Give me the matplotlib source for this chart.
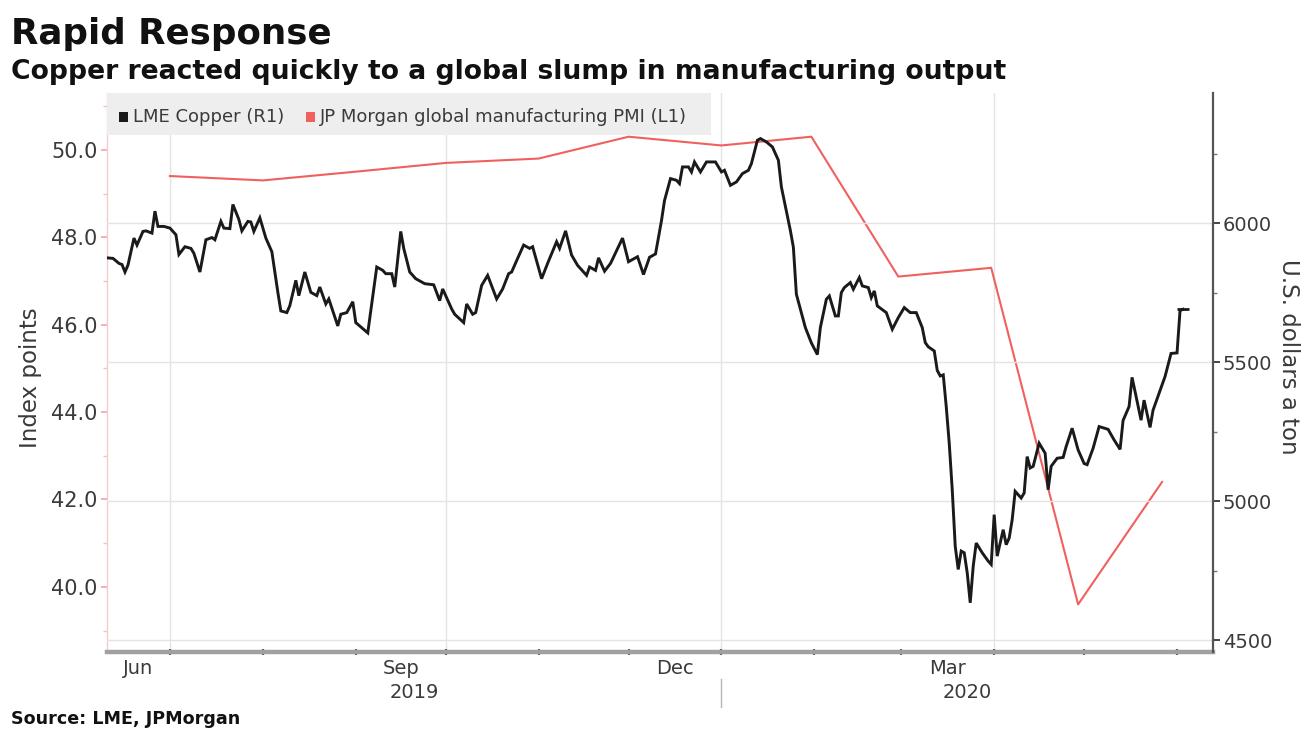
import matplotlib
matplotlib.use("Agg")
import matplotlib.pyplot as plt
import matplotlib.dates as mdates
import matplotlib.transforms as mtransforms
from matplotlib.patches import Rectangle
import pandas as pd

# ---------------- data ----------------
copper_dates = (
    ["2019-06-10", "2019-06-12", "2019-06-14", "2019-06-15", "2019-06-16", "2019-06-17", "2019-06-19",
     "2019-06-20", "2019-06-22", "2019-06-23", "2019-06-25", "2019-06-26", "2019-06-27", "2019-06-29"]
    + ["2019-07-01", "2019-07-03", "2019-07-04", "2019-07-06", "2019-07-08", "2019-07-09", "2019-07-11",
       "2019-07-13", "2019-07-15", "2019-07-16", "2019-07-18", "2019-07-19", "2019-07-21", "2019-07-22",
       "2019-07-24", "2019-07-25", "2019-07-27", "2019-07-28", "2019-07-29", "2019-07-31"]
    + ["2019-08-02", "2019-08-04", "2019-08-06", "2019-08-07", "2019-08-09", "2019-08-10", "2019-08-12",
       "2019-08-13", "2019-08-15", "2019-08-17", "2019-08-19", "2019-08-20", "2019-08-22", "2019-08-23",
       "2019-08-26", "2019-08-27", "2019-08-29", "2019-08-31"]
    + ["2019-09-01", "2019-09-05", "2019-09-08", "2019-09-10", "2019-09-11", "2019-09-13", "2019-09-14",
       "2019-09-16", "2019-09-17", "2019-09-19", "2019-09-21", "2019-09-23", "2019-09-24", "2019-09-27",
       "2019-09-29", "2019-09-30"]
    + ["2019-10-03", "2019-10-04", "2019-10-07", "2019-10-08", "2019-10-10", "2019-10-11", "2019-10-13",
       "2019-10-15", "2019-10-18", "2019-10-20", "2019-10-22", "2019-10-23", "2019-10-25", "2019-10-27",
       "2019-10-29", "2019-10-30"]
    + ["2019-11-02", "2019-11-04", "2019-11-07", "2019-11-08", "2019-11-10", "2019-11-12", "2019-11-14",
       "2019-11-17", "2019-11-18", "2019-11-20", "2019-11-21", "2019-11-23", "2019-11-25", "2019-11-29"]
    + ["2019-12-01", "2019-12-04", "2019-12-06", "2019-12-08", "2019-12-10", "2019-12-12", "2019-12-13",
       "2019-12-15", "2019-12-17", "2019-12-18", "2019-12-19", "2019-12-21", "2019-12-22", "2019-12-23",
       "2019-12-25", "2019-12-27", "2019-12-30"]
    + ["2020-01-01", "2020-01-02", "2020-01-04", "2020-01-06", "2020-01-08", "2020-01-10", "2020-01-11",
       "2020-01-13", "2020-01-14", "2020-01-16", "2020-01-18", "2020-01-20", "2020-01-21", "2020-01-24",
       "2020-01-25", "2020-01-26", "2020-01-29", "2020-01-31"]
    + ["2020-02-02", "2020-02-03", "2020-02-05", "2020-02-06", "2020-02-08", "2020-02-09", "2020-02-10",
       "2020-02-11", "2020-02-13", "2020-02-14", "2020-02-16", "2020-02-17", "2020-02-19", "2020-02-20",
       "2020-02-21", "2020-02-22", "2020-02-25", "2020-02-27", "2020-02-29"]
    + ["2020-03-02", "2020-03-04", "2020-03-06", "2020-03-08", "2020-03-09", "2020-03-10", "2020-03-12",
       "2020-03-13", "2020-03-14", "2020-03-15", "2020-03-16", "2020-03-17", "2020-03-18", "2020-03-19",
       "2020-03-20", "2020-03-21", "2020-03-22", "2020-03-23", "2020-03-24", "2020-03-25", "2020-03-26",
       "2020-03-28", "2020-03-30", "2020-03-31"]
    + ["2020-04-01", "2020-04-02", "2020-04-04", "2020-04-05", "2020-04-06", "2020-04-07", "2020-04-08",
       "2020-04-10", "2020-04-11", "2020-04-12", "2020-04-13", "2020-04-14", "2020-04-15", "2020-04-16",
       "2020-04-18", "2020-04-19", "2020-04-20", "2020-04-22", "2020-04-24", "2020-04-25", "2020-04-27",
       "2020-04-29"]
    + ["2020-05-01", "2020-05-02", "2020-05-04", "2020-05-06", "2020-05-09", "2020-05-11", "2020-05-13",
       "2020-05-14", "2020-05-16", "2020-05-17", "2020-05-20", "2020-05-21", "2020-05-23", "2020-05-24",
       "2020-05-26", "2020-05-28", "2020-05-30", "2020-06-01", "2020-06-02", "2020-06-03"]
)

copper_values = (
    [5875, 5873, 5855, 5851, 5824, 5849, 5946, 5921, 5970, 5972, 5964, 6043, 5988, 5988]
    + [5982, 5958, 5887, 5915, 5909, 5891, 5824, 5940, 5948, 5940, 6006, 5982, 5980, 6067,
       6013, 5972, 6006, 6004, 5970, 6019]
    + [5946, 5897, 5751, 5684, 5678, 5703, 5794, 5739, 5824, 5751, 5739, 5770, 5709, 5727,
       5630, 5672, 5678, 5717]
    + [5642, 5605, 5842, 5830, 5818, 5818, 5770, 5970, 5909, 5824, 5800, 5788, 5782, 5778,
       5721, 5763]
    + [5691, 5672, 5642, 5709, 5672, 5678, 5776, 5812, 5727, 5763, 5818, 5824, 5873, 5921,
       5909, 5915]
    + [5800, 5855, 5933, 5909, 5972, 5885, 5848, 5812, 5842, 5830, 5875, 5827, 5855, 5946]
    + [5861, 5879, 5815, 5877, 5889, 6009, 6081, 6160, 6154, 6142, 6202, 6202, 6184, 6220,
       6184, 6220, 6220]
    + [6184, 6190, 6136, 6148, 6178, 6190, 6214, 6298, 6304, 6292, 6274, 6226, 6130, 5973,
       5913, 5744, 5624, 5569]
    + [5527, 5624, 5726, 5738, 5666, 5666, 5750, 5768, 5786, 5762, 5804, 5774, 5768, 5732,
       5756, 5702, 5678, 5618, 5660]
    + [5696, 5678, 5678, 5624, 5570, 5555, 5540, 5470, 5450, 5454, 5340, 5208, 5041, 4837,
       4754, 4820, 4814, 4742, 4634, 4766, 4849, 4814, 4784, 4772]
    + [4951, 4802, 4897, 4843, 4867, 4933, 5035, 5011, 5029, 5160, 5119, 5125, 5166, 5208,
       5172, 5041, 5125, 5154, 5157, 5196, 5262, 5184]
    + [5135, 5131, 5190, 5268, 5258, 5220, 5186, 5290, 5340, 5445, 5291, 5363, 5265, 5327,
       5387, 5448, 5531, 5533, 5685, 5690]
)

pmi_dates = ["2019-07-01", "2019-08-01", "2019-09-01", "2019-10-01", "2019-11-01", "2019-12-01",
             "2020-01-01", "2020-01-31", "2020-02-29", "2020-03-31", "2020-04-29", "2020-05-27"]
pmi_values = [49.4, 49.3, 49.5, 49.7, 49.8, 50.3, 50.1, 50.3, 47.1, 47.3, 39.6, 42.4]

left_ticks = [40, 42, 44, 46, 48, 50]
left_labels = ["40.0", "42.0", "44.0", "46.0", "48.0", "50.0"]
right_ticks = [4500, 5000, 5500, 6000]
right_labels = ["4500", "5000", "5500", "6000"]
month_labels = ["Jun", "Sep", "Dec", "Mar"]
month_label_months = ["2019-06", "2019-09", "2019-12", "2020-03"]
year_labels = ["2019", "2020"]

title = "Rapid Response"
subtitle = "Copper reacted quickly to a global slump in manufacturing output"
source = "Source: LME, JPMorgan"
legend_labels = ["LME Copper (R1)", "JP Morgan global manufacturing PMI (L1)"]

# ---------------- layout helpers ----------------
W, H = 1308, 730


def fx(x):
    return x / W


def fy(y):
    return 1 - y / H


BLACK = "#1a1a1a"
RED = "#f0605e"
TXT = "#3a3a3a"

fig = plt.figure(figsize=(W / 100, H / 100), dpi=100)
fig.patch.set_facecolor("white")
ax = fig.add_axes([fx(107), fy(652), fx(1213) - fx(107), fy(93) - fy(652)])
ax2 = ax.twinx()

cd = pd.to_datetime(copper_dates)
pdts = pd.to_datetime(pmi_dates)

ax.plot(pdts, pmi_values, color=RED, lw=1.5, zorder=3)
ax2.plot(cd, copper_values, color=BLACK, lw=2.1, zorder=3, solid_joinstyle="miter")
ax2.plot(cd[-1:], copper_values[-1:], marker="_", ms=8, mew=2, color=BLACK, zorder=4)

x0 = pd.Timestamp("2019-06-10")
x1 = pd.Timestamp("2020-06-13")
ax.set_xlim(x0, x1)
ax.set_ylim(38.51, 51.30)
ax2.set_ylim(4457, 6468)

# x ticks: months (minor) and quarters (major, with grid)
ax.xaxis.set_major_locator(mdates.MonthLocator(bymonth=[1, 4, 7, 10]))
ax.xaxis.set_minor_locator(mdates.MonthLocator())
ax.tick_params(axis="x", which="both", direction="inout", length=5, width=1.6,
               color="#555555", labelbottom=False)
ax.grid(axis="x", which="major", color="#e4e4e4", lw=1)

# left axis
ax.set_yticks(left_ticks)
ax.set_yticklabels(left_labels)
ax.set_yticks([39, 41, 43, 45, 47, 49, 51], minor=True)
ax.tick_params(axis="y", which="major", colors="#f3a5a5", labelcolor=TXT, length=4,
               width=1.2, labelsize=15, pad=3)
ax.tick_params(axis="y", which="minor", colors="#f3c0c0", length=3, width=1)

# right axis
ax2.set_yticks(right_ticks)
ax2.set_yticklabels(right_labels)
ax2.set_yticks([4750, 5250, 5750, 6250], minor=True)
ax2.tick_params(axis="y", which="major", colors="#444444", labelcolor=TXT, length=5,
                width=1.4, labelsize=14, pad=2)
ax2.tick_params(axis="y", which="minor", colors="#777777", length=3, width=1)
ax2.grid(axis="y", which="major", color="#e4e4e4", lw=1)

# spines
for a in (ax, ax2):
    a.spines["top"].set_visible(False)
ax.spines["right"].set_visible(False)
ax2.spines["left"].set_visible(False)
ax2.spines["bottom"].set_visible(False)
ax.spines["left"].set_color("#f5cccc")
ax.spines["left"].set_linewidth(1.0)
ax2.spines["right"].set_color("#555555")
ax2.spines["right"].set_linewidth(1.6)
ax.spines["bottom"].set_color("#a0a0a0")
ax.spines["bottom"].set_linewidth(3.2)

# month and year labels, centred on the visible part of each period
trans = mtransforms.blended_transform_factory(ax.transData, fig.transFigure)
n0 = mdates.date2num(x0)
n1 = mdates.date2num(x1)
for lab, m in zip(month_labels, month_label_months):
    ms = pd.Period(m, "M")
    a = max(mdates.date2num(ms.start_time), n0)
    b = min(mdates.date2num((ms + 1).start_time), n1)
    ax.text((a + b) / 2, fy(668), lab, transform=trans, ha="center", va="center",
            fontsize=14, color=TXT)
jan1 = mdates.date2num(pd.Timestamp("2020-01-01"))
ax.text((n0 + jan1) / 2, fy(692), year_labels[0], transform=trans, ha="center",
        va="center", fontsize=14, color=TXT)
ax.text((jan1 + n1) / 2, fy(692), year_labels[1], transform=trans, ha="center",
        va="center", fontsize=14, color=TXT)
ax.plot([jan1, jan1], [fy(679), fy(707)], transform=trans, color="#b5b5b5", lw=1,
        clip_on=False)

# axis titles
fig.text(fx(31), fy(378), "Index points", rotation=90, ha="center", va="center",
         fontsize=16.5, color=TXT)
fig.text(fx(1289), fy(357), "U.S. dollars a ton", rotation=270, ha="center",
         va="center", fontsize=16.5, color=TXT)

# titles and source
fig.text(fx(11), fy(44), title, fontsize=25.7, fontweight="bold", color="#111111",
         va="baseline", ha="left")
fig.text(fx(11), fy(79), subtitle, fontsize=19.2, fontweight="bold", color="#111111",
         va="baseline", ha="left")
fig.text(fx(11), fy(724), source, fontsize=12.6, fontweight="bold", color="#111111",
         va="baseline", ha="left")

# legend box
fig.add_artist(Rectangle((fx(107), fy(135)), fx(711) - fx(107), fy(93) - fy(135),
                         transform=fig.transFigure, facecolor="#eeeeee",
                         edgecolor="none", zorder=5))
fig.add_artist(Rectangle((fx(119), fy(122)), fx(9), fy(0) - fy(10),
                         transform=fig.transFigure, facecolor=BLACK,
                         edgecolor="none", zorder=6))
fig.add_artist(Rectangle((fx(306), fy(122)), fx(9), fy(0) - fy(10),
                         transform=fig.transFigure, facecolor=RED,
                         edgecolor="none", zorder=6))
fig.text(fx(133), fy(117), legend_labels[0], fontsize=13, color=TXT, va="center",
         ha="left", zorder=6)
fig.text(fx(320), fy(117), legend_labels[1], fontsize=13, color=TXT, va="center",
         ha="left", zorder=6)

fig.savefig("out.png", dpi=100, facecolor="white")
